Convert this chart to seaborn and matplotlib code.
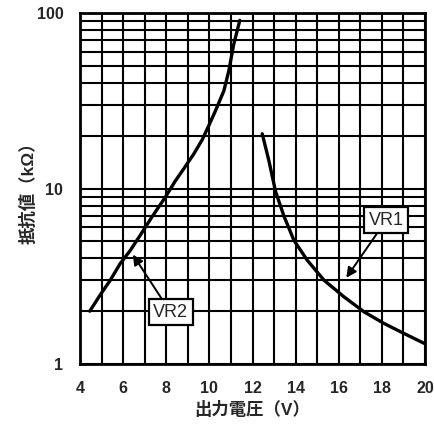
import matplotlib
matplotlib.use("Agg")
import matplotlib.pyplot as plt
import matplotlib.ticker as mticker
import seaborn as sns
import pandas as pd

# Data
vr2_voltage = [4.45, 4.93, 5.40, 5.86, 6.33, 6.79, 7.33, 7.95, 8.41, 8.80,
               9.27, 9.66, 9.97, 10.28, 10.67, 10.90, 11.13, 11.41]
vr2_resist = [2.0, 2.47, 3.0, 3.73, 4.44, 5.41, 6.87, 8.9, 11.0, 12.9,
              15.7, 18.9, 22.8, 27.7, 36.0, 46.8, 66.4, 90.8]
vr1_voltage = [12.45, 12.76, 13.07, 13.46, 13.92, 14.54, 15.32, 16.25,
               17.18, 18.11, 19.04, 19.97]
vr1_resist = [20.5, 14.4, 9.6, 6.95, 5.07, 3.90, 3.0, 2.41,
              1.98, 1.70, 1.49, 1.31]

x_ticks = [4, 6, 8, 10, 12, 14, 16, 18, 20]
y_ticks = [1, 10, 100]
x_label = "出力電圧（V）"
y_label = "抵抗値（kΩ）"

sns.set_theme(style="white")
plt.rcParams['font.family'] = ['Liberation Sans', 'Noto Sans CJK JP']

fig = plt.figure(figsize=(4.35, 4.26), dpi=100)
ax = fig.add_axes([0.184, 0.1455, 0.793, 0.824])

df2 = pd.DataFrame({"V": vr2_voltage, "R": vr2_resist})
df1 = pd.DataFrame({"V": vr1_voltage, "R": vr1_resist})
sns.lineplot(data=df2, x="V", y="R", ax=ax, color="black", lw=2.4, sort=True)
sns.lineplot(data=df1, x="V", y="R", ax=ax, color="black", lw=2.4, sort=True)

ax.set_yscale("log")
ax.set_xlim(4, 20)
ax.set_ylim(1, 100)
ax.set_xticks(x_ticks)
ax.set_xticklabels([str(t) for t in x_ticks])
ax.xaxis.set_minor_locator(mticker.MultipleLocator(1))
ax.xaxis.set_minor_formatter(mticker.NullFormatter())
ax.set_yticks(y_ticks)
ax.set_yticklabels([str(t) for t in y_ticks])
ax.yaxis.set_minor_locator(mticker.LogLocator(base=10, subs=range(2, 10)))
ax.yaxis.set_minor_formatter(mticker.NullFormatter())
ax.grid(True, which="both", color="black", lw=1.5)
ax.set_axisbelow(True)
ax.tick_params(which="both", length=0)
ax.tick_params(axis="x", pad=12, labelsize=11.5)
ax.tick_params(axis="y", pad=12, labelsize=11.5)
for lab in ax.get_xticklabels() + ax.get_yticklabels():
    lab.set_fontweight("bold")
for s in ax.spines.values():
    s.set_color("black")
    s.set_linewidth(2)

ax.set_xlabel(x_label, fontsize=12.5, fontweight="bold", labelpad=4)
ax.set_ylabel(y_label, fontsize=12.5, fontweight="bold")
ax.yaxis.set_label_coords(-0.125, 0.5)

bbox = dict(boxstyle="square,pad=0.25", fc="white", ec="black", lw=1.6)
ax.annotate("VR2", xy=(6.45, 4.2), xytext=(8.2, 1.97), ha="center", va="center",
            fontsize=13, bbox=bbox,
            arrowprops=dict(arrowstyle="-|>", color="black", lw=1.4,
                            shrinkA=0, shrinkB=0, mutation_scale=15))
ax.annotate("VR1", xy=(16.35, 3.1), xytext=(18.2, 6.6), ha="center", va="center",
            fontsize=13, bbox=bbox,
            arrowprops=dict(arrowstyle="-|>", color="black", lw=1.4,
                            shrinkA=0, shrinkB=0, mutation_scale=15))

fig.savefig("out.png", dpi=100)
